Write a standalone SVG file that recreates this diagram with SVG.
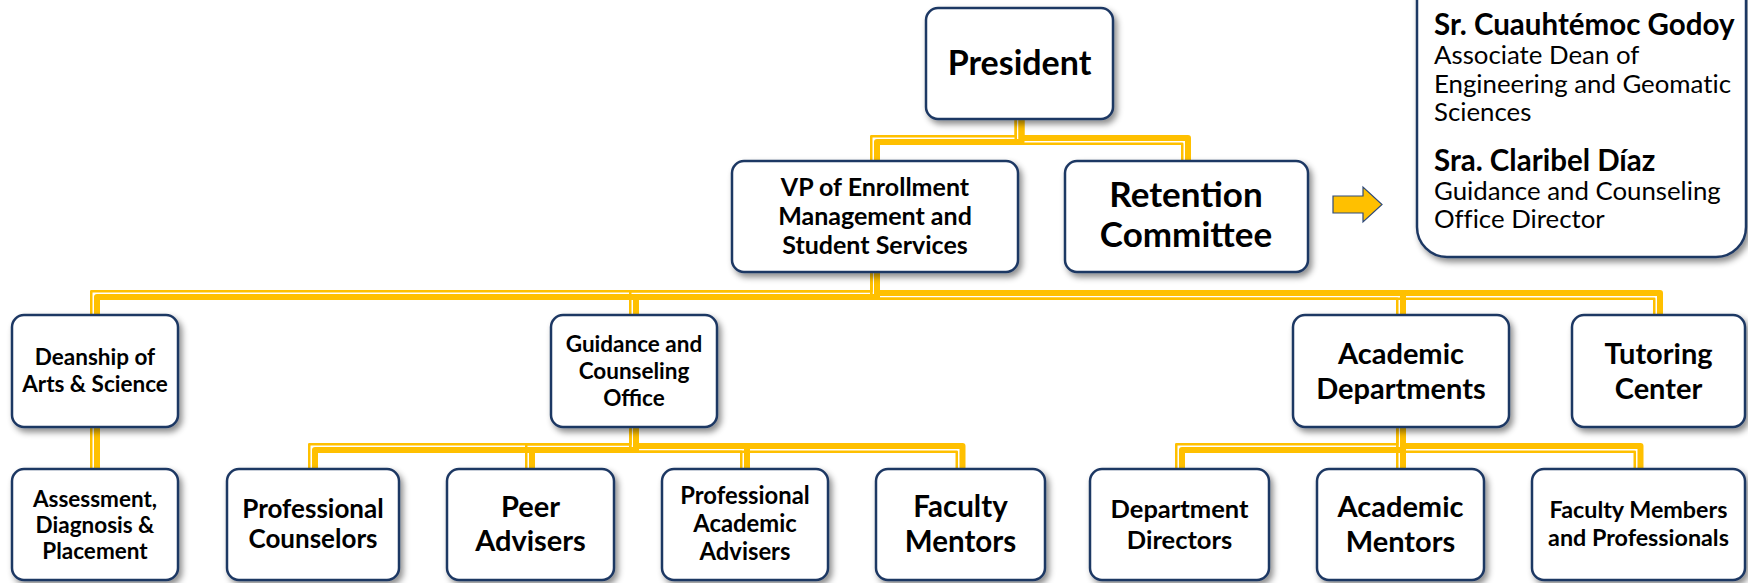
<svg xmlns="http://www.w3.org/2000/svg" width="1748" height="583" viewBox="0 0 1748 583">
<defs>
<filter id="sh" x="-10%" y="-10%" width="125%" height="130%">
<feDropShadow dx="3" dy="4" stdDeviation="3" flood-color="#000" flood-opacity="0.45"/>
</filter>
</defs>
<style>
.box{fill:#fff;stroke:#1F3864;stroke-width:2.5;filter:url(#sh)}
.t{font-family:Lato,"Liberation Sans",sans-serif;font-weight:bold;fill:#000;text-anchor:middle}
.thin{fill:none;stroke:#FFC000;stroke-width:2.5;stroke-linejoin:round}
.thick{fill:none;stroke:#FFC000;stroke-width:6;stroke-linejoin:round}
.info{font-family:Lato,"Liberation Sans",sans-serif;fill:#000;font-variant-ligatures:none}
</style>
<rect width="1748" height="583" fill="#fff"/>
<g id="connectors">
<path class="thin" d="M1015.75,117 V136.25 H871.25 V163"/>
<path class="thick" d="M1021.5,117 V142 H877 V163"/>
<path class="thin" d="M1015.75,117 V143.75 H1182.25 V163"/>
<path class="thick" d="M1021.5,117 V138 H1188 V163"/>
<path class="thin" d="M871.25,270 V291.25 H91.25 V317"/>
<path class="thick" d="M877,270 V297 H97 V317"/>
<path class="thin" d="M871.25,270 V291.25 H630.25 V317"/>
<path class="thick" d="M877,270 V297 H636 V317"/>
<path class="thin" d="M871.25,270 V298.75 H1397.25 V317"/>
<path class="thick" d="M877,270 V293 H1403 V317"/>
<path class="thin" d="M871.25,270 V298.75 H1654.25 V317"/>
<path class="thick" d="M877,270 V293 H1660 V317"/>
<path class="thin" d="M91.25,425 V471"/>
<path class="thick" d="M97,425 V471"/>
<path class="thin" d="M630.25,425 V444.25 H309.25 V471"/>
<path class="thick" d="M636,425 V450 H315 V471"/>
<path class="thin" d="M630.25,425 V444.25 H526.25 V471"/>
<path class="thick" d="M636,425 V450 H532 V471"/>
<path class="thin" d="M630.25,425 V451.75 H741.25 V471"/>
<path class="thick" d="M636,425 V446 H747 V471"/>
<path class="thin" d="M630.25,425 V451.75 H956.75 V471"/>
<path class="thick" d="M636,425 V446 H962.5 V471"/>
<path class="thin" d="M1397.25,425 V444.25 H1176.25 V471"/>
<path class="thick" d="M1403,425 V450 H1182 V471"/>
<path class="thin" d="M1397.25,425 V471"/>
<path class="thick" d="M1403,425 V471"/>
<path class="thin" d="M1397.25,425 V451.75 H1634.75 V471"/>
<path class="thick" d="M1403,425 V446 H1640.5 V471"/>
</g>
<g id="arrow">
<polygon points="1333,196 1363,196 1363,187 1382,204.5 1363,222 1363,213 1333,213" fill="#FFC000" stroke="#2F4A7A" stroke-width="1.2"/>
</g>
<g id="info">
<rect class="box" x="1417" y="-40" width="329" height="297" rx="30"/>
<text class="info" x="1434" y="35" font-size="29.5" font-weight="bold">Sr. Cuauhtémoc Godoy</text>
<text class="info" x="1434" y="64" font-size="25.8">Associate Dean of</text>
<text class="info" x="1434" y="92.5" font-size="25.8">Engineering and Geomatic</text>
<text class="info" x="1434" y="121" font-size="25.8">Sciences</text>
<text class="info" x="1434" y="171" font-size="29.5" font-weight="bold">Sra. Claribel Díaz</text>
<text class="info" x="1434" y="200" font-size="25.8">Guidance and Counseling</text>
<text class="info" x="1434" y="228" font-size="25.8">Office Director</text>
</g>
<g id="president">
<rect class="box" x="926" y="8" width="187" height="111" rx="12"/>
<text class="t" x="1019.5" y="75" font-size="34">President</text>
</g>
<g id="vp">
<rect class="box" x="732" y="161" width="286" height="111" rx="12"/>
<text class="t" x="875" y="196" font-size="25">VP of Enrollment</text>
<text class="t" x="875" y="225" font-size="25">Management and</text>
<text class="t" x="875" y="254" font-size="25">Student Services</text>
</g>
<g id="retention">
<rect class="box" x="1065" y="161" width="243" height="111" rx="12"/>
<text class="t" x="1186" y="207" font-size="35">Retention</text>
<text class="t" x="1186" y="247" font-size="35">Committee</text>
</g>
<g id="deanship">
<rect class="box" x="12" y="315" width="166" height="112" rx="12"/>
<text class="t" x="95" y="365" font-size="22.5">Deanship of</text>
<text class="t" x="95" y="392" font-size="22.5">Arts &amp; Science</text>
</g>
<g id="guidance">
<rect class="box" x="551" y="315" width="166" height="112" rx="12"/>
<text class="t" x="634" y="352" font-size="22.5">Guidance and</text>
<text class="t" x="634" y="379" font-size="22.5">Counseling</text>
<text class="t" x="634" y="406" font-size="22.5">Office</text>
</g>
<g id="academic-departments">
<rect class="box" x="1293" y="315" width="216" height="112" rx="12"/>
<text class="t" x="1401" y="364" font-size="29">Academic</text>
<text class="t" x="1401" y="399" font-size="29">Departments</text>
</g>
<g id="tutoring">
<rect class="box" x="1572" y="315" width="173" height="112" rx="12"/>
<text class="t" x="1658.5" y="364" font-size="29">Tutoring</text>
<text class="t" x="1658.5" y="399" font-size="29">Center</text>
</g>
<g id="assessment">
<rect class="box" x="12" y="469" width="166" height="111" rx="12"/>
<text class="t" x="95" y="507" font-size="22.5">Assessment,</text>
<text class="t" x="95" y="533" font-size="22.5">Diagnosis &amp;</text>
<text class="t" x="95" y="559" font-size="22.5">Placement</text>
</g>
<g id="professional-counselors">
<rect class="box" x="227" y="469" width="172" height="111" rx="12"/>
<text class="t" x="313" y="518" font-size="26">Professional</text>
<text class="t" x="313" y="548" font-size="26">Counselors</text>
</g>
<g id="peer-advisers">
<rect class="box" x="447" y="469" width="167" height="111" rx="12"/>
<text class="t" x="530.5" y="517" font-size="29">Peer</text>
<text class="t" x="530.5" y="551" font-size="29">Advisers</text>
</g>
<g id="professional-academic-advisers">
<rect class="box" x="662" y="469" width="166" height="111" rx="12"/>
<text class="t" x="745" y="504" font-size="23.8">Professional</text>
<text class="t" x="745" y="532" font-size="23.8">Academic</text>
<text class="t" x="745" y="560" font-size="23.8">Advisers</text>
</g>
<g id="faculty-mentors">
<rect class="box" x="876" y="469" width="169" height="111" rx="12"/>
<text class="t" x="960.5" y="517" font-size="29.5">Faculty</text>
<text class="t" x="960.5" y="552" font-size="29.5">Mentors</text>
</g>
<g id="department-directors">
<rect class="box" x="1090" y="469" width="179" height="111" rx="12"/>
<text class="t" x="1179.5" y="518" font-size="25.5">Department</text>
<text class="t" x="1179.5" y="549" font-size="25.5">Directors</text>
</g>
<g id="academic-mentors">
<rect class="box" x="1317" y="469" width="167" height="111" rx="12"/>
<text class="t" x="1400.5" y="517" font-size="29">Academic</text>
<text class="t" x="1400.5" y="552" font-size="29">Mentors</text>
</g>
<g id="faculty-members">
<rect class="box" x="1532" y="469" width="213" height="111" rx="12"/>
<text class="t" x="1638.5" y="518" font-size="23.3">Faculty Members</text>
<text class="t" x="1638.5" y="546" font-size="23.3">and Professionals</text>
</g>
</svg>
